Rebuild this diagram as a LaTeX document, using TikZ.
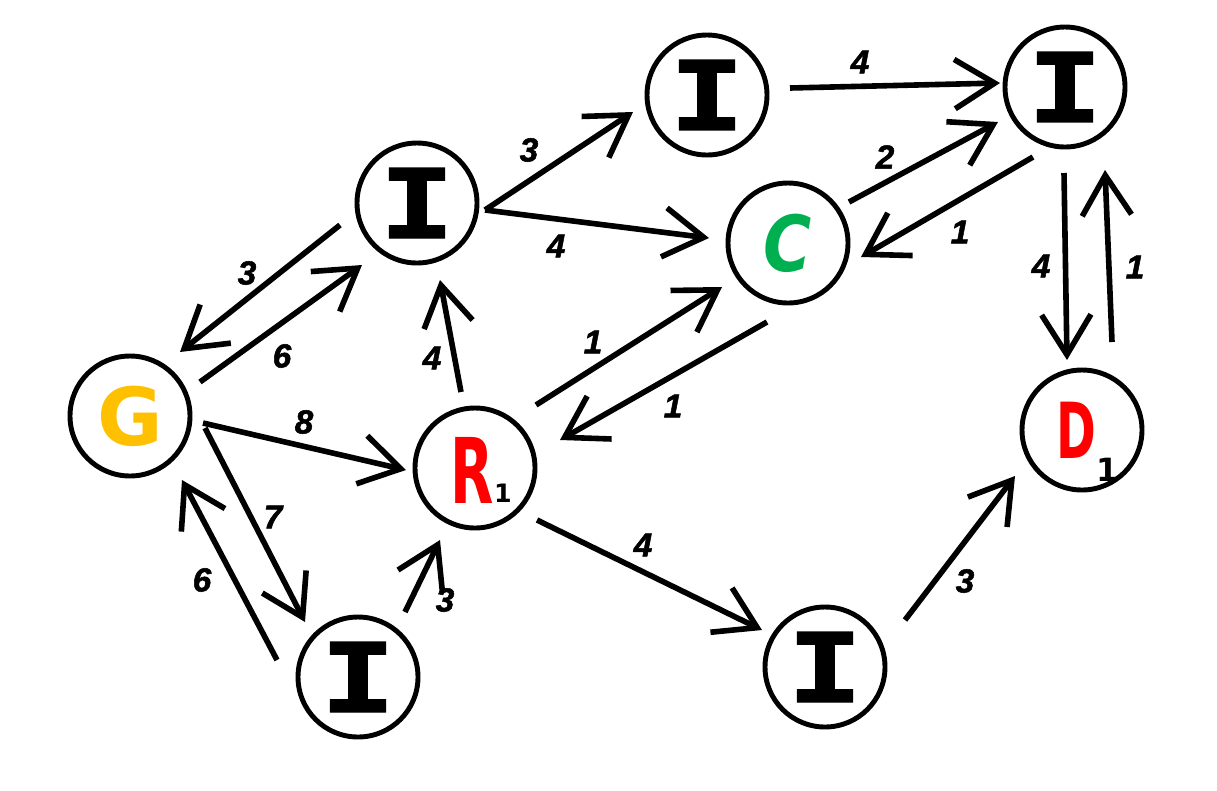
\documentclass[tikz,border=0pt]{standalone}
\usepackage{fontspec}
\setmainfont{Liberation Sans}
\newfontfamily\weightfont{Liberation Sans}[FakeBold=1.6]
\newfontfamily\letterfont{DejaVu Sans}
\newfontfamily\slabfont{DejaVu Sans Mono}[FakeBold=1.5]
\usetikzlibrary{arrows.meta,calc}

% letter drawn inside the intermediate states
\newcommand\interm{\scalebox{1.3}[1]{\slabfont\bfseries\fontsize{72}{72}\selectfont I}}

\begin{document}
\begin{tikzpicture}[x=0.75pt,y=-0.75pt,
  state/.style={circle,draw,line width=3.7pt,minimum size=90pt,inner sep=0pt},
  edge/.style={line width=4.2pt,-{Straight Barb[length=30pt,width=37pt,sharp]}},
  wt/.style={font=\weightfont\fontsize{25}{25}\selectfont\bfseries\itshape},
  sub/.style={inner sep=0pt,font=\letterfont\bfseries\fontsize{#1}{#1}\selectfont},
  goal/.style={inner sep=0pt},
  ]
\useasboundingbox (0,0) rectangle (1217,790);

% states
\node[state] (G)  at (130,416)  {\letterfont\bfseries\fontsize{60}{60}\selectfont\color[HTML]{FFC000}G};
\node[state] (I1) at (417,203)  {\interm};
\node[state] (I2) at (707,95)   {\interm};
\node[state] (I3) at (1065,87)  {\interm};
\node[state] (C)  at (788,243)  {\scalebox{0.85}[1]{\letterfont\bfseries\itshape\fontsize{58}{58}\selectfont\color[HTML]{00B050}C}};
\node[state] (R)  at (475,468)  {};
\node[state] (D)  at (1082,430) {};
\node[state] (I4) at (358,677)  {\interm};
\node[state] (I5) at (825,667)  {\interm};

% goal letters with their subscripts
\node[goal] (Rl) at ($(R)+(-3,2)$) {\scalebox{0.62}[1]{\letterfont\bfseries\fontsize{68}{68}\selectfont\color{red}R}};
\node[sub=19] (Rs) at ($(R)+(28,25)$) {1};
\node[goal] (Dl) at ($(D)+(-6,0)$) {\scalebox{0.62}[1]{\letterfont\bfseries\fontsize{58}{58}\selectfont\color{red}D}};
\node[sub=24] (Ds) at ($(D)+(26,40)$) {1};

% transitions
\draw[edge] ($(I1)+(68,7)$)   -- ($(I2)+(-74,17)$);
\draw[edge] ($(I1)+(68,7)$)   -- ($(C)+(-79,-5)$);
\draw[edge] ($(I2)+(83,-7)$)  -- ($(I3)+(-65,-4)$);
\draw[edge] ($(C)+(61,-41)$)  -- ($(I3)+(-67,35)$);
\draw[edge] ($(I3)+(-32,70)$) -- ($(C)+(73,14)$);
\draw[edge] ($(I3)+(-1,86)$)  -- ($(D)+(-15,-70)$);
\draw[edge] ($(D)+(30,-88)$)  -- ($(I3)+(40,83)$);
\draw[edge] ($(I1)+(-77,22)$) -- ($(G)+(50,-64)$);
\draw[edge] ($(G)+(70,-34)$)  -- ($(I1)+(-55,62)$);
\draw[edge] ($(R)+(-14,-76)$) -- ($(I1)+(23,77)$);
\draw[edge] ($(R)+(61,-63)$)  -- ($(C)+(-66,44)$);
\draw[edge] ($(C)+(-21,79)$)  -- ($(R)+(85,-28)$);
\draw[edge] ($(G)+(73,7)$)    -- ($(R)+(-69,2)$);
\draw[edge] ($(G)+(75,12)$)   -- ($(I4)+(-53,-55)$);
\draw[edge] ($(I4)+(-81,-17)$) -- ($(G)+(52,64)$);
\draw[edge] ($(I4)+(47,-65)$) -- ($(R)+(-35,72)$);
\draw[edge] ($(R)+(62,52)$)   -- ($(I5)+(-63,-37)$);
\draw[edge] ($(I5)+(80,-47)$) -- ($(D)+(-67,46)$);

% weights
\node[wt] (w1)  at (529,150)  {3};
\node[wt] (w2)  at (556,246)  {4};
\node[wt] (w3)  at (860,62)   {4};
\node[wt] (w4)  at (885,157)  {2};
\node[wt] (w5)  at (960,232)  {1};
\node[wt] (w6)  at (1041,266) {4};
\node[wt] (w7)  at (1135,267) {1};
\node[wt] (w8)  at (247,273)  {3};
\node[wt] (w9)  at (282,356)  {6};
\node[wt] (w10) at (432,358)  {4};
\node[wt] (w11) at (593,342)  {1};
\node[wt] (w12) at (673,406)  {1};
\node[wt] (w13) at (304,422)  {8};
\node[wt] (w14) at (273,517)  {7};
\node[wt] (w15) at (202,580)  {6};
\node[wt] (w16) at (445,600)  {3};
\node[wt] (w17) at (643,545)  {4};
\node[wt] (w18) at (965,581)  {3};
\end{tikzpicture}
\end{document}
